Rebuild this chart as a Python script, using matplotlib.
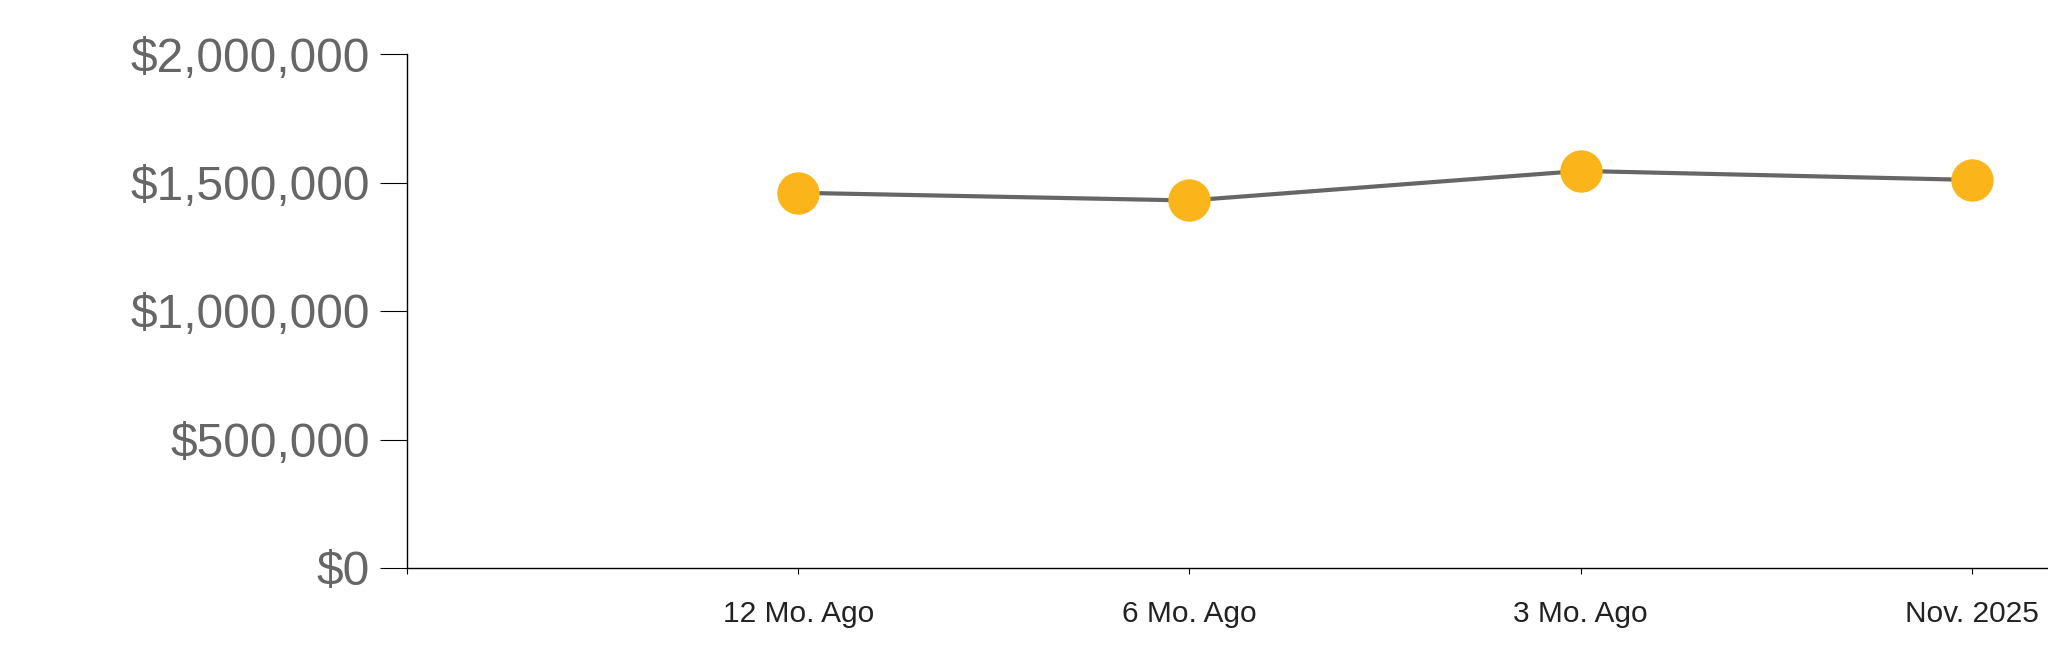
import matplotlib
matplotlib.use("Agg")
import matplotlib.pyplot as plt
from matplotlib.ticker import FuncFormatter

# Data
periods = ["12 Mo. Ago", "6 Mo. Ago", "3 Mo. Ago", "Nov. 2025"]
values = [1460000, 1430000, 1545000, 1510000]
y_ticks = [0, 500000, 1000000, 1500000, 2000000]

plt.rcParams["font.family"] = ["Liberation Sans", "DejaVu Sans"]

fig = plt.figure(figsize=(20.48, 6.63), dpi=100)
ax = fig.add_axes([407 / 2048, (663 - 568) / 663, 1 - 407 / 2048, (568 - 54) / 663])

x = list(range(1, len(periods) + 1))
ax.plot(x, values, color="#666666", linewidth=3, zorder=2)
ax.scatter(x, values, s=30.5 ** 2, color="#FBB51B", zorder=3, linewidths=0)

ax.set_xlim(0, 4.195)
ax.set_ylim(0, 2000000)

ax.set_xticks([0] + x)
ax.set_xticklabels([""] + periods)
ax.set_yticks(y_ticks)
ax.yaxis.set_major_formatter(FuncFormatter(lambda v, p: "${:,.0f}".format(v)))

ax.spines["top"].set_visible(False)
ax.spines["right"].set_visible(False)
for s in ["left", "bottom"]:
    ax.spines[s].set_linewidth(1)
    ax.spines[s].set_color("black")

ax.tick_params(axis="y", length=19.5, width=0.8, pad=7, labelsize=34.5, labelcolor="#666666")
ax.tick_params(axis="x", length=4.3, width=0.8, pad=19, labelsize=21.5, labelcolor="#222222")

fig.savefig("out.png", dpi=100)
